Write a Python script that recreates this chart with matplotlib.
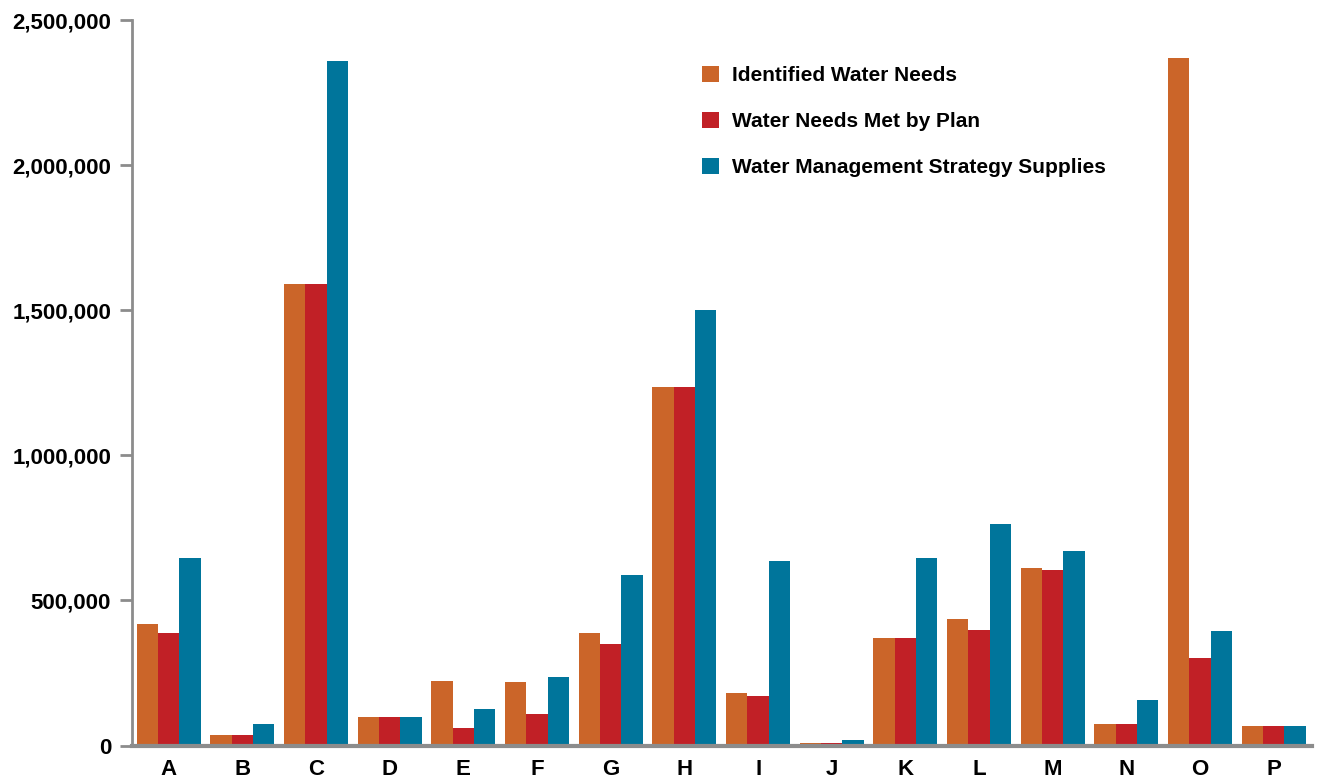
import numpy as np
import matplotlib.pyplot as plt
from matplotlib.ticker import FuncFormatter
from matplotlib.patches import Patch

regions = list("ABCDEFGHIJKLMNOP")
identified_needs = [418000, 36000, 1589000, 98000, 222000, 219000, 387000, 1234000,
                    181000, 8000, 370000, 436000, 611000, 74000, 2368000, 67000]
needs_met = [387000, 36000, 1589000, 98000, 60000, 108000, 350000, 1234000,
             170000, 8000, 370000, 398000, 604000, 74000, 301000, 67000]
strategy_supplies = [646000, 74000, 2359000, 98000, 126000, 236000, 587000, 1500000,
                     635000, 19000, 646000, 763000, 670000, 157000, 394000, 67000]
series_names = ["Identified Water Needs", "Water Needs Met by Plan",
                "Water Management Strategy Supplies"]
colors = ["#CB6529", "#C12026", "#00759B"]

plt.rcParams['font.family'] = ['Liberation Sans', 'DejaVu Sans']
plt.rcParams['font.weight'] = 'bold'

fig = plt.figure(figsize=(13.17, 7.79), dpi=100)
ax = fig.add_axes([0.1002, 0.043, 0.896, 0.9313])

x = np.arange(len(regions))
w = 0.29
for i, (vals, c) in enumerate(zip([identified_needs, needs_met, strategy_supplies], colors)):
    ax.bar(x + (i - 1) * w, vals, width=w, color=c, linewidth=0)

ax.set_xlim(-0.5, 15.52)
ax.set_ylim(0, 2500000)
ax.set_yticks(np.arange(0, 2500001, 500000))
ax.yaxis.set_major_formatter(FuncFormatter(lambda v, p: f"{int(v):,}"))
ax.set_xticks(x)
ax.set_xticklabels(regions)

for s in ['top', 'right']:
    ax.spines[s].set_visible(False)
ax.spines['left'].set_color('#8c8c8c')
ax.spines['left'].set_linewidth(2)
ax.spines['bottom'].set_color('#8c8c8c')
ax.spines['bottom'].set_linewidth(3)

ax.tick_params(axis='y', length=9, width=2, color='#8c8c8c', labelsize=16, pad=6)
ax.tick_params(axis='x', length=0, labelsize=16, pad=10)
for lab in ax.get_xticklabels() + ax.get_yticklabels():
    lab.set_fontweight('bold')

handles = [Patch(facecolor=c, edgecolor='none') for c in colors]
ax.legend(handles, series_names, loc='upper left', bbox_to_anchor=(0.467, 0.963),
          frameon=False, handlelength=0.85, handleheight=0.85,
          handletextpad=0.6, labelspacing=1.27, prop={'weight': 'bold', 'size': 15})

fig.savefig('out.png', dpi=100)
